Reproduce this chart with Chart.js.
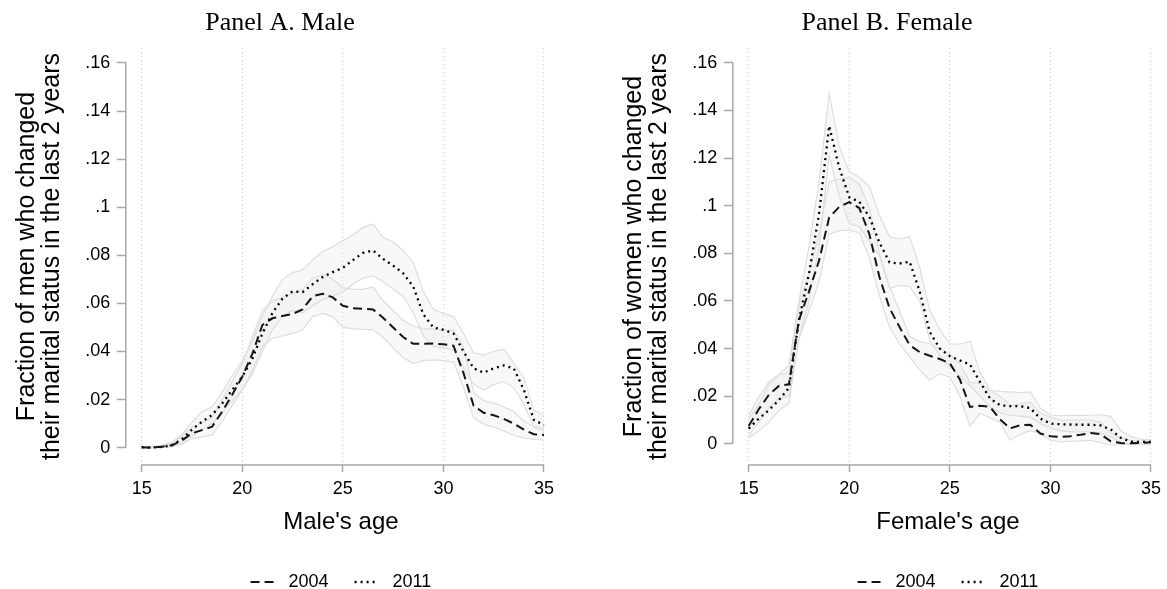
<!DOCTYPE html>
<html>
<head>
<meta charset="utf-8">
<script src="https://cdn.jsdelivr.net/npm/chart.js@4.4.1/dist/chart.umd.min.js"></script>
<style>
  html, body { margin: 0; padding: 0; background: #fff; overflow: hidden; width: 1167px; height: 589px; }
  canvas { position: absolute; top: 0; }
  #male_chart { left: 0; }
  #female_chart { left: 607px; }
</style>
</head>
<body>
<canvas id="male_chart" width="560" height="601"></canvas>
<canvas id="female_chart" width="560" height="601"></canvas>
<script>
const ages = [15, 15.5, 16, 16.5, 17, 17.5, 18, 18.5, 19, 19.5,
              20, 20.5, 21, 21.5, 22, 22.5, 23, 23.5, 24, 24.5,
              25, 25.5, 26, 26.5, 27, 27.5, 28, 28.5, 29, 29.5,
              30, 30.5, 31, 31.5, 32, 32.5, 33, 33.5, 34, 34.5, 35];
const xTicks = [15, 20, 25, 30, 35];
const yTicks = [0, 0.02, 0.04, 0.06, 0.08, 0.1, 0.12, 0.14, 0.16];
const yTickLabels = ['0', '.02', '.04', '.06', '.08', '.1', '.12', '.14', '.16'];
const seriesNames = ['2004', '2011'];

// Panel A, men
const male2004 = [0.0002, 0.0000, 0.0004, 0.0010, 0.0030, 0.0060, 0.0073, 0.0087, 0.0150, 0.0220,
                  0.0295, 0.0390, 0.0510, 0.0538, 0.0548, 0.0556, 0.0575, 0.0630, 0.0640, 0.0625,
                  0.0590, 0.0580, 0.0578, 0.0575, 0.0540, 0.0500, 0.0460, 0.0432, 0.0432, 0.0433,
                  0.0430, 0.0424, 0.0310, 0.0175, 0.0145, 0.0135, 0.0120, 0.0100, 0.0075, 0.0056, 0.0053];
const male2004Hi = [0.0005, 0.0003, 0.0008, 0.0018, 0.0048, 0.0085, 0.0105, 0.0125, 0.0200, 0.0275,
                    0.0350, 0.0460, 0.0570, 0.0610, 0.0625, 0.0640, 0.0660, 0.0705, 0.0722, 0.0700,
                    0.0665, 0.0658, 0.0658, 0.0668, 0.0610, 0.0570, 0.0530, 0.0505, 0.0496, 0.0493,
                    0.0490, 0.0488, 0.0420, 0.0230, 0.0195, 0.0185, 0.0170, 0.0150, 0.0110, 0.0088, 0.0085];
const male2004Lo = [0.0000, 0.0000, 0.0001, 0.0004, 0.0015, 0.0038, 0.0045, 0.0053, 0.0110, 0.0175,
                    0.0240, 0.0320, 0.0420, 0.0455, 0.0465, 0.0475, 0.0490, 0.0545, 0.0558, 0.0545,
                    0.0500, 0.0495, 0.0492, 0.0490, 0.0460, 0.0415, 0.0375, 0.0350, 0.0362, 0.0365,
                    0.0362, 0.0356, 0.0250, 0.0125, 0.0098, 0.0085, 0.0070, 0.0052, 0.0040, 0.0035, 0.0032];
const male2011 = [0.0002, 0.0001, 0.0003, 0.0010, 0.0035, 0.0075, 0.0108, 0.0136, 0.0184, 0.0240,
                  0.0295, 0.0370, 0.0475, 0.0560, 0.0620, 0.0650, 0.0647, 0.0680, 0.0710, 0.0730,
                  0.0748, 0.0780, 0.0810, 0.0820, 0.0785, 0.0757, 0.0725, 0.0670, 0.0555, 0.0500,
                  0.0490, 0.0475, 0.0400, 0.0330, 0.0312, 0.0330, 0.0342, 0.0330, 0.0240, 0.0115, 0.0095];
const male2011Hi = [0.0006, 0.0005, 0.0010, 0.0022, 0.0055, 0.0105, 0.0150, 0.0170, 0.0230, 0.0300,
                    0.0360, 0.0440, 0.0550, 0.0630, 0.0700, 0.0728, 0.0740, 0.0780, 0.0815, 0.0836,
                    0.0860, 0.0885, 0.0915, 0.0930, 0.0875, 0.0855, 0.0820, 0.0770, 0.0650, 0.0575,
                    0.0558, 0.0545, 0.0475, 0.0395, 0.0385, 0.0400, 0.0410, 0.0350, 0.0290, 0.0155, 0.0135];
const male2011Lo = [0.0000, 0.0000, 0.0001, 0.0004, 0.0020, 0.0050, 0.0075, 0.0100, 0.0145, 0.0195,
                    0.0240, 0.0305, 0.0400, 0.0490, 0.0545, 0.0572, 0.0560, 0.0590, 0.0615, 0.0630,
                    0.0645, 0.0680, 0.0705, 0.0715, 0.0690, 0.0660, 0.0630, 0.0560, 0.0465, 0.0420,
                    0.0415, 0.0405, 0.0330, 0.0265, 0.0240, 0.0262, 0.0275, 0.0250, 0.0180, 0.0085, 0.0070];

// Panel B, women
const female2004 = [0.0075, 0.0145, 0.0205, 0.0243, 0.0250, 0.0520, 0.0640, 0.0770, 0.0950, 0.0995,
                    0.1015, 0.0990, 0.0880, 0.0700, 0.0570, 0.0490, 0.0415, 0.0385, 0.0370, 0.0356,
                    0.0338, 0.0270, 0.0155, 0.0160, 0.0155, 0.0102, 0.0065, 0.0078, 0.0080, 0.0043,
                    0.0032, 0.0029, 0.0032, 0.0038, 0.0045, 0.0040, 0.0010, 0.0003, 0.0002, 0.0004, 0.0006];
const female2004Hi = [0.0120, 0.0195, 0.0260, 0.0290, 0.0300, 0.0580, 0.0720, 0.0880, 0.1100, 0.1110,
                      0.1120, 0.1090, 0.0990, 0.0800, 0.0660, 0.0560, 0.0450, 0.0430, 0.0420, 0.0400,
                      0.0375, 0.0335, 0.0258, 0.0253, 0.0225, 0.0200, 0.0160, 0.0168, 0.0175, 0.0130,
                      0.0110, 0.0100, 0.0100, 0.0100, 0.0100, 0.0090, 0.0045, 0.0025, 0.0015, 0.0012, 0.0012];
const female2004Lo = [0.0035, 0.0090, 0.0150, 0.0190, 0.0200, 0.0440, 0.0560, 0.0680, 0.0880, 0.0895,
                      0.0897, 0.0885, 0.0780, 0.0620, 0.0490, 0.0420, 0.0365, 0.0310, 0.0267, 0.0295,
                      0.0280, 0.0200, 0.0075, 0.0127, 0.0110, 0.0090, 0.0015, 0.0040, 0.0055, 0.0045,
                      0.0015, 0.0008, 0.0010, 0.0012, 0.0015, 0.0005, -0.0005, -0.0003, -0.0002, 0.0000, 0.0000];
const female2011 = [0.0064, 0.0106, 0.0141, 0.0183, 0.0235, 0.0520, 0.0715, 0.0967, 0.1335, 0.1160,
                    0.1035, 0.1016, 0.0953, 0.0845, 0.0762, 0.0757, 0.0765, 0.0640, 0.0470, 0.0400,
                    0.0368, 0.0350, 0.0333, 0.0260, 0.0190, 0.0162, 0.0158, 0.0158, 0.0150, 0.0106,
                    0.0085, 0.0082, 0.0081, 0.0080, 0.0080, 0.0077, 0.0060, 0.0025, 0.0009, 0.0008, 0.0008];
const female2011Hi = [0.0105, 0.0165, 0.0250, 0.0290, 0.0330, 0.0600, 0.0830, 0.1100, 0.1470, 0.1250,
                      0.1140, 0.1120, 0.1080, 0.0960, 0.0870, 0.0860, 0.0870, 0.0740, 0.0560, 0.0480,
                      0.0420, 0.0418, 0.0430, 0.0300, 0.0225, 0.0220, 0.0218, 0.0215, 0.0218, 0.0150,
                      0.0120, 0.0118, 0.0120, 0.0118, 0.0120, 0.0122, 0.0115, 0.0055, 0.0030, 0.0020, 0.0018];
const female2011Lo = [0.0025, 0.0055, 0.0090, 0.0140, 0.0170, 0.0440, 0.0600, 0.0830, 0.1210, 0.1040,
                      0.0925, 0.0912, 0.0850, 0.0790, 0.0653, 0.0665, 0.0660, 0.0600, 0.0435, 0.0370,
                      0.0325, 0.0285, 0.0245, 0.0200, 0.0155, 0.0130, 0.0120, 0.0116, 0.0112, 0.0085,
                      0.0065, 0.0055, 0.0050, 0.0050, 0.0050, 0.0045, 0.0030, 0.0005, 0.0000, 0.0000, 0.0000];

Chart.defaults.font.family = "'Liberation Sans', Arial, Helvetica, sans-serif";
Chart.defaults.color = '#000';

const axisGrey = '#a8a8a8';
const bandLine = '#dedede';
const bandFill = 'rgba(225, 225, 225, 0.22)';

const toPoints = values => ages.map((a, i) => ({ x: a, y: values[i] }));

// stata style axes: lines only from first to last tick
const axisLines = {
  id: 'axisLines',
  afterDraw(chart) {
    const { ctx, chartArea, scales: { x, y } } = chart;
    ctx.save();
    ctx.strokeStyle = axisGrey;
    ctx.lineWidth = 1.5;
    ctx.beginPath();
    ctx.moveTo(chartArea.left, y.getPixelForValue(yTicks[yTicks.length - 1]));
    ctx.lineTo(chartArea.left, y.getPixelForValue(yTicks[0]));
    ctx.moveTo(x.getPixelForValue(xTicks[0]), chartArea.bottom);
    ctx.lineTo(x.getPixelForValue(xTicks[xTicks.length - 1]), chartArea.bottom);
    ctx.stroke();
    ctx.restore();
  }
};

// legend keys drawn with the dash pattern of the two main lines
const lineLegend = chart => chart.data.datasets.slice(0, 2).map((ds, i) => ({
  text: '\u00a0' + ds.label,
  datasetIndex: i,
  strokeStyle: ds.borderColor,
  fillStyle: ds.borderColor,
  lineWidth: ds.borderWidth,
  lineDash: ds.borderDash,
  lineCap: 'butt',
  pointStyle: 'line',
  hidden: false
}));

function makeChart(id, panel) {
  const ctx = document.getElementById(id).getContext('2d');
  const bandStyle = { borderColor: bandLine, borderWidth: 1.2, pointRadius: 0, tension: 0 };
  return new Chart(ctx, {
    type: 'line',
    data: {
      datasets: [
        { label: seriesNames[0], data: toPoints(panel.v2004), borderColor: '#141414', borderWidth: 2,
          borderDash: [9, 5], pointRadius: 0, tension: 0, fill: false },
        { label: seriesNames[1], data: toPoints(panel.v2011), borderColor: '#000', borderWidth: 2.3,
          borderDash: [2, 4], pointRadius: 0, tension: 0, fill: false },
        { label: 'ci', data: toPoints(panel.hi2004), fill: '+1', backgroundColor: bandFill, ...bandStyle },
        { label: 'ci', data: toPoints(panel.lo2004), fill: false, ...bandStyle },
        { label: 'ci', data: toPoints(panel.hi2011), fill: '+1', backgroundColor: bandFill, ...bandStyle },
        { label: 'ci', data: toPoints(panel.lo2011), fill: false, ...bandStyle }
      ]
    },
    options: {
      responsive: false,
      animation: false,
      events: [],
      layout: { padding: 0 },
      plugins: {
        title: {
          display: true,
          text: panel.title,
          font: { family: "'Palatino Linotype', 'Book Antiqua', Palatino, 'Liberation Serif', serif", size: 26, weight: 'normal' },
          color: '#000',
          padding: { top: 7.4, bottom: 9.4 }
        },
        legend: {
          position: 'bottom',
          fullSize: false,
          labels: {
            usePointStyle: true,
            pointStyle: 'line',
            pointStyleWidth: 24,
            padding: 26,
            font: { size: 18 },
            color: '#000',
            generateLabels: lineLegend
          }
        },
        tooltip: { enabled: false }
      },
      scales: {
        x: {
          type: 'linear',
          min: 14.21,
          max: 35.6,
          afterBuildTicks: s => { s.ticks = xTicks.map(v => ({ value: v })); },
          afterFit: s => { s.height = 82; },
          ticks: { font: { size: 18 }, padding: 6, maxRotation: 0 },
          grid: { color: '#cdcdcd', lineWidth: 1, tickLength: 7, tickColor: axisGrey, tickWidth: 1.5 },
          border: { display: false, dash: [1, 3] },
          title: { display: true, text: panel.xTitle, font: { size: 24 }, padding: { top: 0, bottom: 10 } }
        },
        y: {
          min: panel.yMin,
          max: panel.yMax,
          afterBuildTicks: s => { s.ticks = yTicks.map(v => ({ value: v })); },
          afterFit: s => { s.width = 125.8; },
          ticks: {
            font: { size: 18 },
            padding: 6.5,
            callback: v => yTickLabels[yTicks.indexOf(v)]
          },
          grid: { drawOnChartArea: false, tickLength: 9, tickColor: axisGrey, tickWidth: 1.5 },
          border: { display: false },
          title: {
            display: true,
            text: panel.yTitle,
            font: { size: 25, lineHeight: 1.0 },
            padding: { top: 15, bottom: 0 }
          }
        }
      }
    },
    plugins: [axisLines]
  });
}

makeChart('male_chart', {
  title: 'Panel A. Male',
  xTitle: "Male's age",
  yTitle: ['Fraction of men who changed', 'their marital status in the last 2 years'],
  yMin: -0.0072, yMax: 0.1662,
  v2004: male2004, hi2004: male2004Hi, lo2004: male2004Lo,
  v2011: male2011, hi2011: male2011Hi, lo2011: male2011Lo
});

makeChart('female_chart', {
  title: 'Panel B. Female',
  xTitle: "Female's age",
  yTitle: ['Fraction of women who changed', 'their marital status in the last 2 years'],
  yMin: -0.0089, yMax: 0.1662,
  v2004: female2004, hi2004: female2004Hi, lo2004: female2004Lo,
  v2011: female2011, hi2011: female2011Hi, lo2011: female2011Lo
});
</script>
</body>
</html>
